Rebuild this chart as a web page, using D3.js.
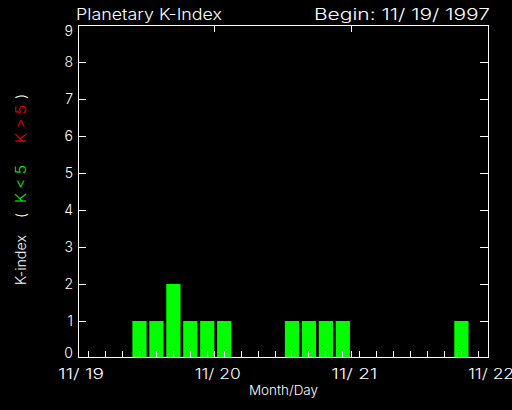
<!DOCTYPE html>
<html>
<head>
<meta charset="utf-8">
<script src="https://cdn.jsdelivr.net/npm/d3@7"></script>
<style>
  html, body { margin: 0; padding: 0; background: #000; }
  svg { display: block; }
  text { font-family: "Inter", "DejaVu Sans", sans-serif; font-weight: 300; fill: #fff; }
</style>
</head>
<body>
<div id="chart"></div>
<script>
// ---- data ----
const dayLabels = ["11/ 19", "11/ 20", "11/ 21", "11/ 22"];
const kIndex = [0, 0, 0, 1, 1, 2, 1, 1,
                1, 0, 0, 0, 1, 1, 1, 1,
                0, 0, 0, 0, 0, 0, 1, 0];
const yTickValues = [0, 1, 2, 3, 4, 5, 6, 7, 8, 9];
const titleText = "Planetary K-Index";
const beginText = "Begin: 11/ 19/ 1997";
const xTitle = "Month/Day";

(function () {
// ---- layout ----
const W = 512, H = 410;
const pLeft = 78, pRight = 488, pTop = 25, pBottom = 357;

const svg = d3.select("#chart").append("svg")
  .attr("width", W).attr("height", H);
svg.append("rect").attr("width", W).attr("height", H).attr("fill", "#000");

const y = d3.scaleLinear().domain([0, 9]).range([pBottom + 1, pTop]);
const xHours = d3.scaleLinear().domain([0, 72]).range([pLeft, pRight]);
const xBand = d3.scaleBand().domain(d3.range(kIndex.length))
  .range([pLeft + 1, pRight]).paddingInner(0.16).paddingOuter(0.15);

const px = v => Math.floor(v) + 0.5;

// bars
svg.append("g").selectAll("rect").data(kIndex).join("rect")
  .attr("x", (d, i) => xBand(i))
  .attr("width", xBand.bandwidth())
  .attr("y", d => y(d))
  .attr("height", d => y(0) - y(d))
  .attr("fill", d => d > 5 ? "#ff0000" : "#00ff00");

const g = svg.append("g").attr("stroke", "#fff").attr("stroke-width", 1)
  .attr("shape-rendering", "crispEdges").attr("fill", "none");

// frame
g.append("rect").attr("x", pLeft + 0.5).attr("y", pTop + 0.5)
  .attr("width", pRight - pLeft).attr("height", pBottom - pTop);

// y ticks (left and right, inward)
yTickValues.slice(1, -1).forEach(v => {
  const yy = px(y(v));
  g.append("line").attr("x1", pLeft).attr("x2", pLeft + 8).attr("y1", yy).attr("y2", yy);
  g.append("line").attr("x1", pRight - 8).attr("x2", pRight).attr("y1", yy).attr("y2", yy);
});

// day ticks top & bottom
const dayHours = dayLabels.map((d, i) => i * 24);
dayHours.slice(1, -1).forEach(h => {
  const xx = px(xHours(h));
  g.append("line").attr("x1", xx).attr("x2", xx).attr("y1", pTop).attr("y2", pTop + 7);
  g.append("line").attr("x1", xx).attr("x2", xx).attr("y1", pBottom - 6).attr("y2", pBottom);
});

// minor ticks at each 3-hour bin
kIndex.forEach((d, i) => {
  const xx = px(xBand(i) + xBand.bandwidth() / 2);
  g.append("line").attr("x1", xx).attr("x2", xx).attr("y1", pBottom - 6).attr("y2", pBottom);
});

// y labels
svg.append("g").selectAll("text").data(yTickValues).join("text")
  .attr("x", 73)
  .attr("y", v => Math.min(Math.max(y(v), 31), 353) + 5)
  .attr("text-anchor", "end")
  .attr("font-size", 14)
  .text(v => v);

// x labels
svg.append("g").selectAll("text").data(dayLabels).join("text")
  .attr("x", (d, i) => xHours(dayHours[i]) + 3)
  .attr("y", 378.5)
  .attr("text-anchor", "middle")
  .attr("font-size", 14)
  .attr("textLength", 46).attr("lengthAdjust", "spacingAndGlyphs")
  .text(d => d);

// x title
svg.append("text").attr("x", 249).attr("y", 394.5)
  .attr("font-size", 13)
  .attr("textLength", 69).attr("lengthAdjust", "spacingAndGlyphs")
  .text(xTitle);

// titles
svg.append("text").attr("x", 76).attr("y", 19.5)
  .attr("font-size", 16)
  .attr("textLength", 146).attr("lengthAdjust", "spacingAndGlyphs")
  .text(titleText);
svg.append("text").attr("x", 314).attr("y", 19.5)
  .attr("font-size", 16)
  .attr("textLength", 176).attr("lengthAdjust", "spacingAndGlyphs")
  .text(beginText);

// y title (rotated, coloured parts)
const yTitleParts = [
  { t: "K-index", y0: 285, len: 50, c: "#fff" },
  { t: "(", y0: 218, len: 5, c: "#fff" },
  { t: "K < 5", y0: 203, len: 38, c: "#00ff00" },
  { t: "K > 5", y0: 143, len: 38, c: "#ff0000" },
  { t: ")", y0: 99, len: 5, c: "#fff" }
];
yTitleParts.forEach(p => {
  svg.append("text")
    .attr("transform", `translate(26,${p.y0}) rotate(-90)`)
    .attr("font-size", 14)
    .attr("textLength", p.len).attr("lengthAdjust", "spacingAndGlyphs")
    .style("fill", p.c)
    .text(p.t);
});
})();
</script>
</body>
</html>
